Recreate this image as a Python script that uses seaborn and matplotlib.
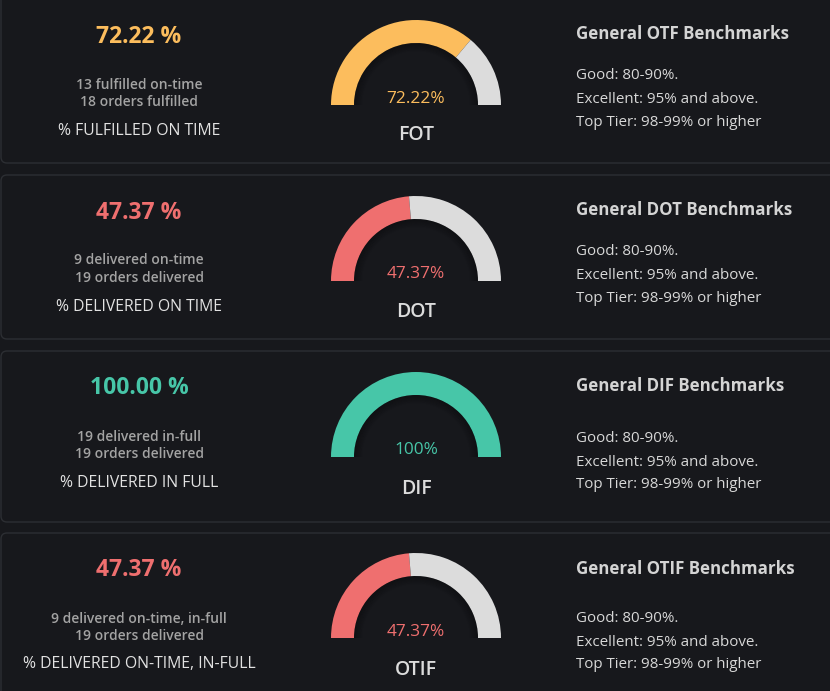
import matplotlib
matplotlib.use("Agg")
import matplotlib.pyplot as plt
from matplotlib.patches import FancyBboxPatch, Wedge
import seaborn as sns

# ---- data ----
metrics = ["FOT", "DOT", "DIF", "OTIF"]
values = [72.22, 47.37, 100.00, 47.37]
numerators = ["13 fulfilled on-time", "9 delivered on-time", "19 delivered in-full", "9 delivered on-time, in-full"]
denominators = ["18 orders fulfilled", "19 orders delivered", "19 orders delivered", "19 orders delivered"]
labels = ["% FULFILLED ON TIME", "% DELIVERED ON TIME", "% DELIVERED IN FULL", "% DELIVERED ON-TIME, IN-FULL"]
bench_titles = ["General OTF Benchmarks", "General DOT Benchmarks", "General DIF Benchmarks", "General OTIF Benchmarks"]
bench_lines = ["Good: 80-90%.", "Excellent: 95% and above.", "Top Tier: 98-99% or higher"]
colors = ["#FCBD5D", "#EF6F6F", "#47C6A8", "#EF6F6F"]

# ---- style ----
BG = "#17181C"
sns.set_theme(style="dark", rc={"figure.facecolor": BG, "axes.facecolor": BG})
plt.rcParams["font.family"] = ["Open Sans", "DejaVu Sans"]

W, H = 830, 691
fig = plt.figure(figsize=(W / 100, H / 100), dpi=100)
bg = fig.add_axes([0, 0, 1, 1])
bg.set_xlim(0, W)
bg.set_ylim(H, 0)
bg.axis("off")

# layout (pixel positions)
dy = 2
panels = [(-12, 163), (175, 339), (351, 522), (533, 703)]
gauge_base = [105, 281, 457, 638]
big_y = [35, 211, 386, 568]
sub_y = [(83, 100), (258, 276), (435, 452), (617, 634)]
lab_y = [129, 305, 481, 662]
pct_y = [97, 272, 448, 630]
name_y = [133, 310, 487, 668]
btitle_y = [32, 208, 384, 567]
blines_y = [(73, 97, 120), (249, 273, 296), (436, 460, 482), (617, 640, 663)]
cx, R, thick = 416, 85, 23
left_cx, right_x = 139, 576

for i in range(4):
    y0, y1 = panels[i]
    bg.add_patch(FancyBboxPatch((1, y0), W + 10, y1 - y0,
                                boxstyle="round,pad=0,rounding_size=6",
                                facecolor=BG, edgecolor="#2C2E33", linewidth=1.0))
    c = colors[i]
    # left block
    bg.text(left_cx, big_y[i] + dy, f"{values[i]:.2f} %", color=c, fontsize=16.5,
            fontweight="bold", ha="center", va="center")
    bg.text(left_cx, sub_y[i][0] + dy, numerators[i], color="#A3A3A3", fontsize=10.0,
            fontweight="semibold", ha="center", va="center")
    bg.text(left_cx, sub_y[i][1] + dy, denominators[i], color="#A3A3A3", fontsize=10.0,
            fontweight="semibold", ha="center", va="center")
    bg.text(left_cx, lab_y[i] + dy, labels[i], color="#E2E2E2", fontsize=11.3,
            ha="center", va="center")
    # right block
    bg.text(right_x, btitle_y[i] + dy, bench_titles[i], color="#D4D4D4", fontsize=12.2,
            fontweight="bold", ha="left", va="center")
    for ly, txt in zip(blines_y[i], bench_lines):
        bg.text(right_x, ly + dy, txt, color="#D8D8D8", fontsize=10.9, ha="left", va="center")

    # gauge
    base = gauge_base[i]
    gax = fig.add_axes([(cx - R) / W, (H - base - R) / H, 2 * R / W, 2 * R / H])
    gax.set_facecolor("none")
    v = values[i]
    wedges, _ = gax.pie([v, 100 - v, 100], colors=[c, "#DCDCDC", "none"],
                        startangle=180, counterclock=False, radius=1,
                        wedgeprops=dict(width=thick / R, linewidth=0))
    rin = 1 - thick / R
    # inner shadow
    n = 8
    for k in range(n):
        w = 0.012
        gax.add_patch(Wedge((0, 0), rin - k * w, 0, 180, width=w,
                            facecolor="black", alpha=0.30 * (1 - k / n), linewidth=0))
    gax.set_xlim(-1, 1)
    gax.set_ylim(-1, 1)
    gax.axis("off")
    bg.text(cx, pct_y[i] + dy, f"{v:g}%" if v == 100 else f"{v:.2f}%", color=c,
            fontsize=12.4, ha="center", va="center")
    bg.text(cx, name_y[i] + dy, metrics[i], color="#DCDCDC", fontsize=14,
            fontweight="semibold", ha="center", va="center")

fig.savefig("out.png", dpi=100, facecolor=BG)
